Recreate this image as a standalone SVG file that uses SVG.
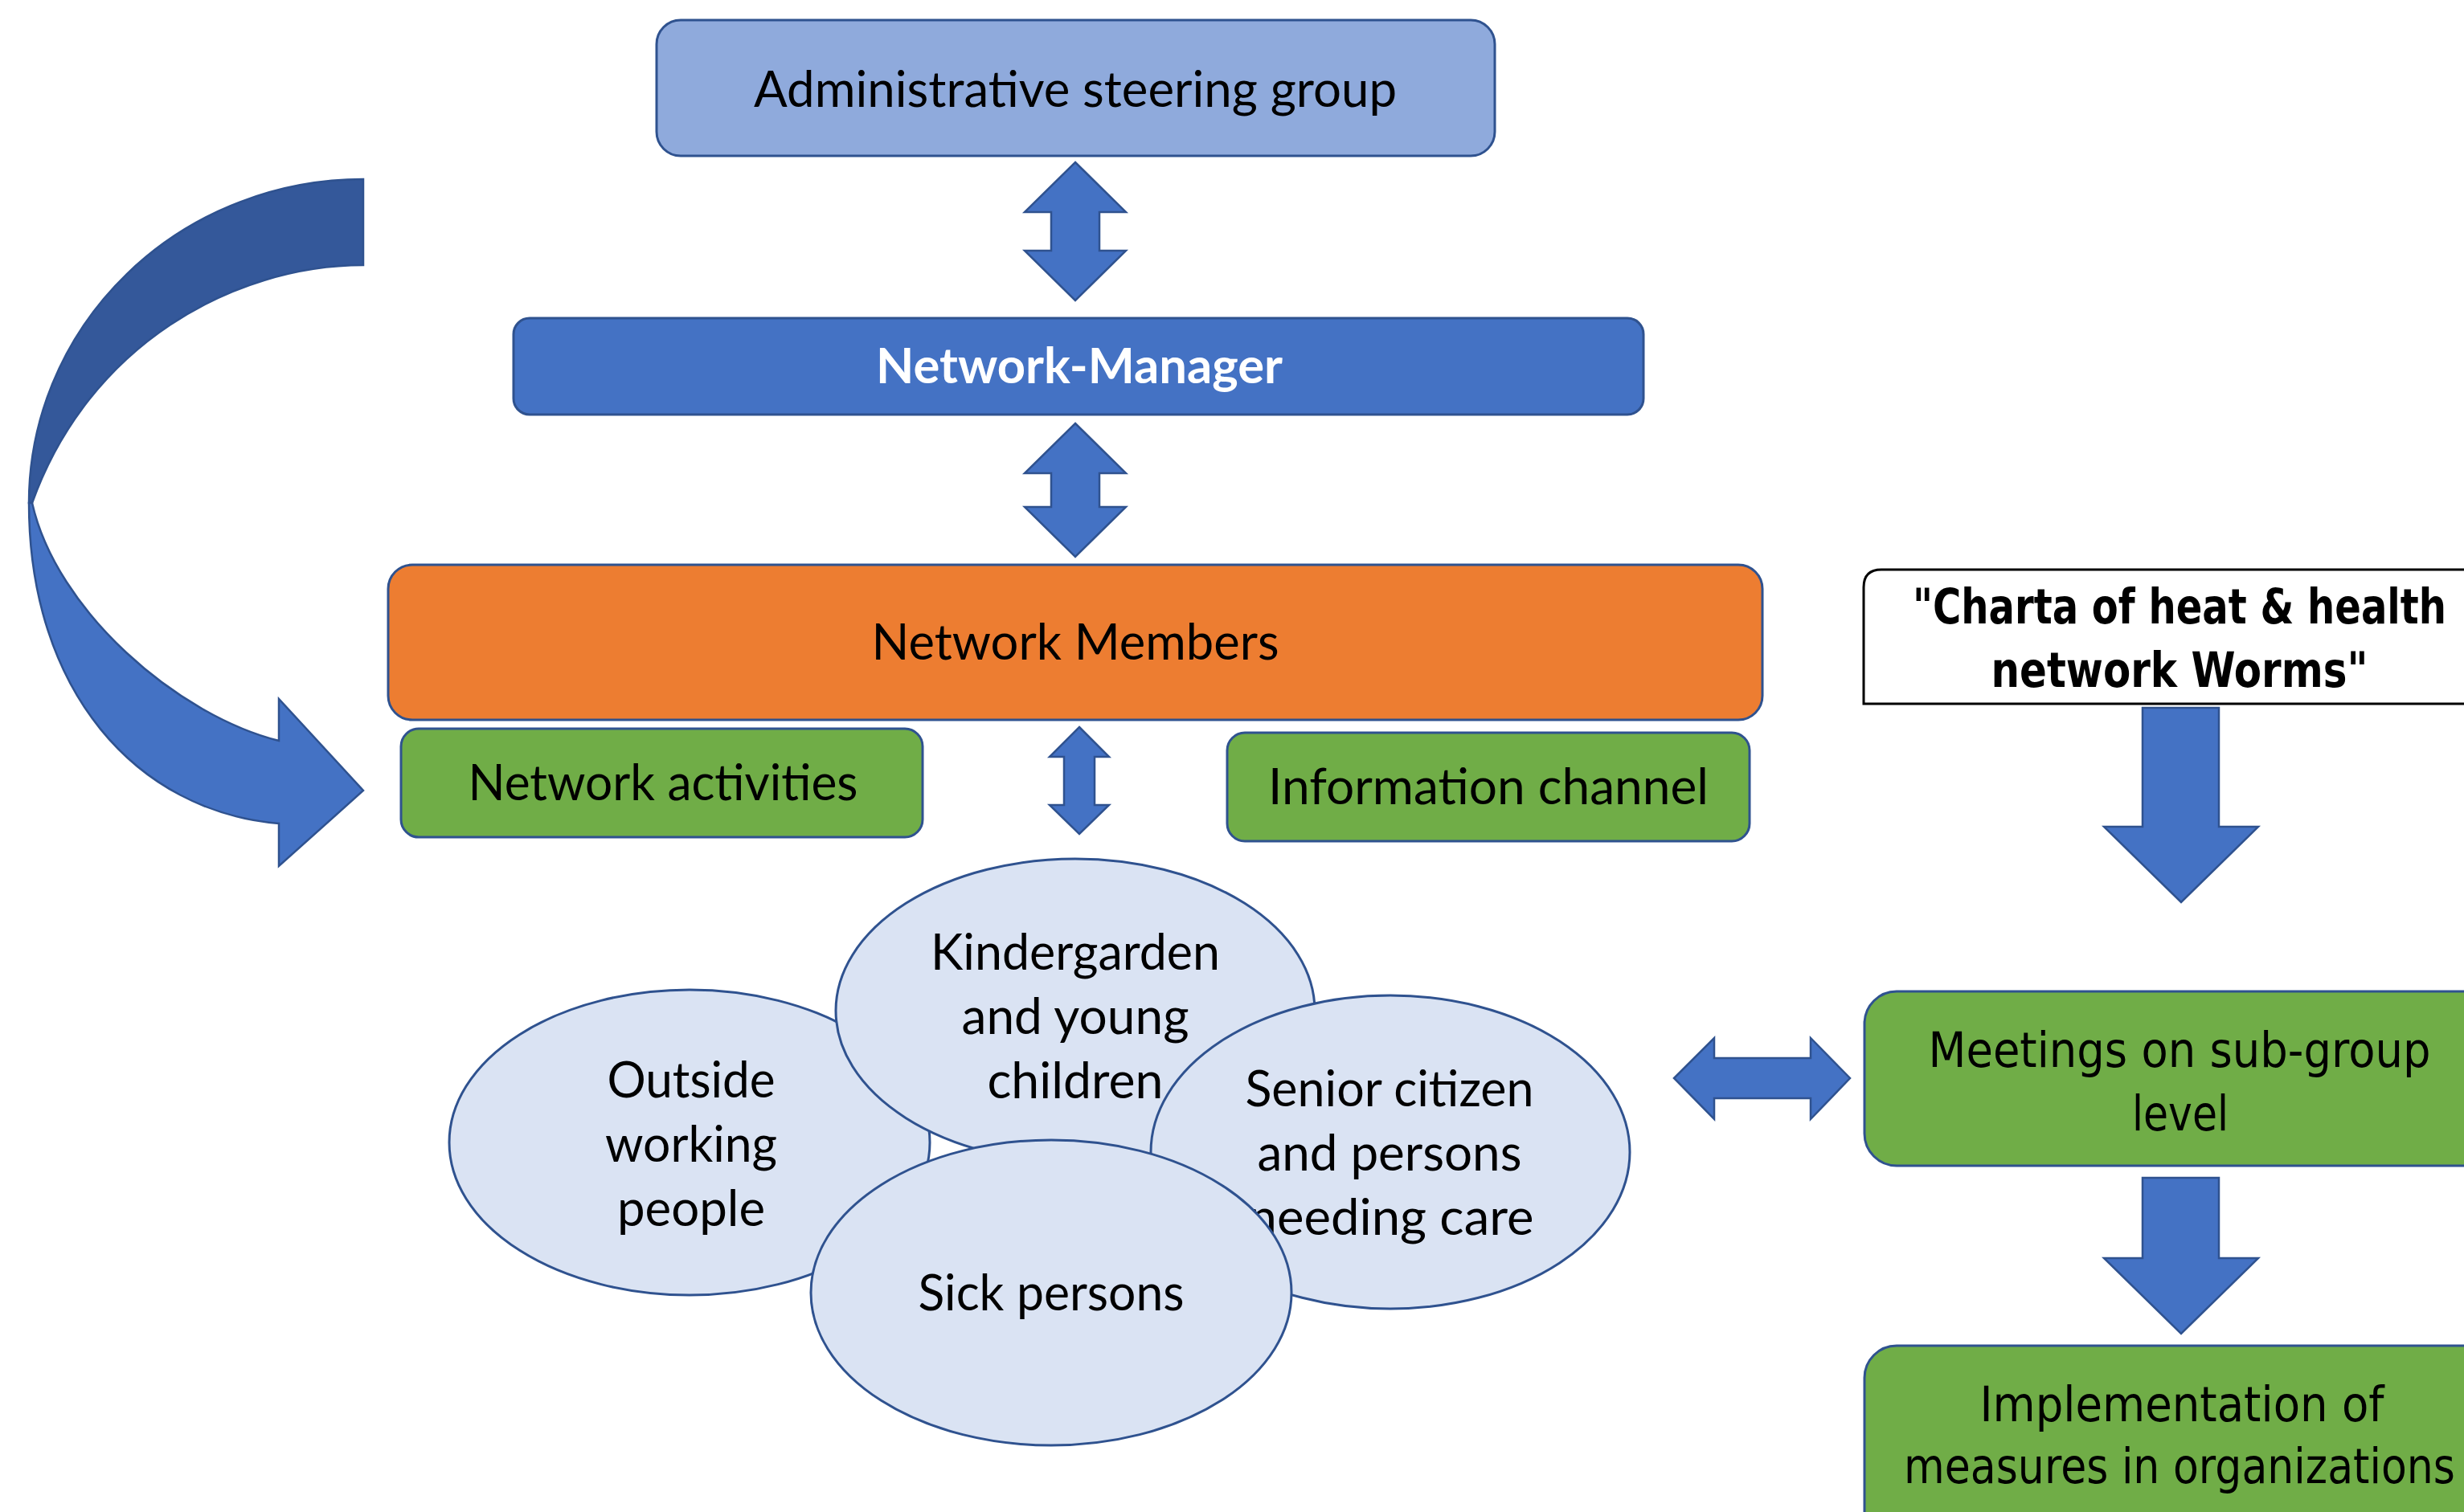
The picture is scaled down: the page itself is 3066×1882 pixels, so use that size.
<svg xmlns="http://www.w3.org/2000/svg" width="3066" height="1882" viewBox="0 0 3066 1882">
<style>
.box{stroke:#2F528F;stroke-width:3}
.lt{font-family:Lato,"Open Sans",sans-serif;font-size:62px;fill:#000;text-anchor:middle}
.rt{font-family:"DejaVu Sans",Verdana,sans-serif;font-size:61px;fill:#000;text-anchor:middle}
.rb{font-family:"DejaVu Sans",Verdana,sans-serif;font-size:60px;font-weight:700;fill:#000;text-anchor:middle}
.ell{fill:#DAE3F3;stroke:#2F528F;stroke-width:3}
.arr{fill:#4472C4;stroke:#2F528F;stroke-width:2.5;stroke-linejoin:miter}
.green{fill:#70AD47}
</style>
<rect width="3066" height="1882" fill="#fff"/>

<g id="connectors">
  <path class="arr" style="fill:#34589A" d="M452,223 A416,403 0 0 0 36,626 L40,626 C110,430 290,330 452,330 Z"/>
  <path class="arr" d="M36,626 C36,860 170,1010 347,1025 L347,1078 L452,984 L347,870 L347,922 C220,890 70,760 40,626 Z"/>
  <path class="arr" d="M1338,202 L1401,264 L1368,264 L1368,312 L1401,312 L1338,374 L1275,312 L1308,312 L1308,264 L1275,264 Z"/>
  <path class="arr" d="M1338,527 L1401,589 L1368,589 L1368,631 L1401,631 L1338,693 L1275,631 L1308,631 L1308,589 L1275,589 Z"/>
  <path class="arr" d="M1343,905 L1380,942 L1362,942 L1362,1002 L1380,1002 L1343,1038 L1306,1002 L1324,1002 L1324,942 L1306,942 Z"/>
  <path class="arr" d="M2083,1342 L2133,1292 L2133,1317 L2253,1317 L2253,1292 L2302,1342 L2253,1393 L2253,1367 L2133,1367 L2133,1393 Z"/>
  <path class="arr" d="M2666,881 L2761,881 L2761,1029 L2810,1029 L2714,1123 L2618,1029 L2666,1029 Z"/>
  <path class="arr" d="M2666,1466 L2761,1466 L2761,1566 L2810,1566 L2714,1660 L2618,1566 L2666,1566 Z"/>
</g>

<g id="admin">
  <rect class="box" x="817" y="25" width="1043" height="169" rx="30" fill="#8FAADC"/>
  <text class="lt" x="1338" y="133" textLength="800" lengthAdjust="spacingAndGlyphs">Administrative steering group</text>
</g>

<g id="network-manager">
  <rect class="box" x="639" y="396" width="1406" height="120" rx="20" fill="#4472C4"/>
  <text class="lt" x="1343" y="477" font-weight="700" style="fill:#fff" textLength="506" lengthAdjust="spacingAndGlyphs">Network-Manager</text>
</g>

<g id="network-members">
  <rect class="box" x="483" y="703" width="1710" height="193" rx="30" fill="#ED7D31"/>
  <text class="lt" x="1338" y="821" textLength="507" lengthAdjust="spacingAndGlyphs">Network Members</text>
</g>

<g id="network-activities">
  <rect class="box green" x="499" y="907" width="649" height="135" rx="22"/>
  <text class="lt" x="825" y="996" textLength="485" lengthAdjust="spacingAndGlyphs">Network activities</text>
</g>

<g id="information-channel">
  <rect class="box green" x="1527" y="912" width="650" height="135" rx="22"/>
  <text class="lt" x="1852" y="1001" textLength="548" lengthAdjust="spacingAndGlyphs">Information channel</text>
</g>

<g id="outside-working-people">
  <ellipse class="ell" cx="858" cy="1422" rx="299" ry="190"/>
  <text class="lt" x="860" y="1366" textLength="209" lengthAdjust="spacingAndGlyphs">Outside</text>
  <text class="lt" x="860" y="1446" textLength="214" lengthAdjust="spacingAndGlyphs">working</text>
  <text class="lt" x="860" y="1526" textLength="184" lengthAdjust="spacingAndGlyphs">people</text>
</g>

<g id="kindergarden">
  <ellipse class="ell" cx="1338" cy="1258" rx="298" ry="189"/>
  <text class="lt" x="1338" y="1207" textLength="360" lengthAdjust="spacingAndGlyphs">Kindergarden</text>
  <text class="lt" x="1338" y="1287" textLength="283" lengthAdjust="spacingAndGlyphs">and young</text>
  <text class="lt" x="1338" y="1367" textLength="219" lengthAdjust="spacingAndGlyphs">children</text>
</g>

<g id="senior-citizen">
  <ellipse class="ell" cx="1730" cy="1434" rx="298" ry="195"/>
  <text class="lt" x="1729" y="1377" textLength="359" lengthAdjust="spacingAndGlyphs">Senior citizen</text>
  <text class="lt" x="1729" y="1457" textLength="329" lengthAdjust="spacingAndGlyphs">and persons</text>
  <text class="lt" x="1731" y="1537" textLength="355" lengthAdjust="spacingAndGlyphs">needing care</text>
</g>

<g id="sick-persons">
  <ellipse class="ell" cx="1308" cy="1609" rx="299" ry="190"/>
  <text class="lt" x="1308" y="1631" textLength="331" lengthAdjust="spacingAndGlyphs">Sick persons</text>
</g>

<g id="charta">
  <path d="M2319,876 L2319,731 Q2319,709 2341,709 L3110,709 L3110,876 Z" fill="#fff" stroke="#000" stroke-width="3"/>
  <text class="rb" x="2712" y="776" textLength="664" lengthAdjust="spacingAndGlyphs">"Charta of heat &amp; health</text>
  <text class="rb" x="2712" y="855" textLength="469" lengthAdjust="spacingAndGlyphs">network Worms"</text>
</g>

<g id="meetings">
  <rect class="box green" x="2320" y="1234" width="800" height="217" rx="40"/>
  <text class="rt" x="2712" y="1328" textLength="625" lengthAdjust="spacingAndGlyphs">Meetings on sub-group</text>
  <text class="rt" x="2713" y="1407" textLength="120" lengthAdjust="spacingAndGlyphs">level</text>
</g>

<g id="implementation">
  <rect class="box green" x="2320" y="1675" width="800" height="260" rx="40"/>
  <text class="rt" x="2715" y="1769" textLength="503" lengthAdjust="spacingAndGlyphs">Implementation of</text>
  <text class="rt" x="2712" y="1846" textLength="686" lengthAdjust="spacingAndGlyphs">measures in organizations</text>
</g>
</svg>
